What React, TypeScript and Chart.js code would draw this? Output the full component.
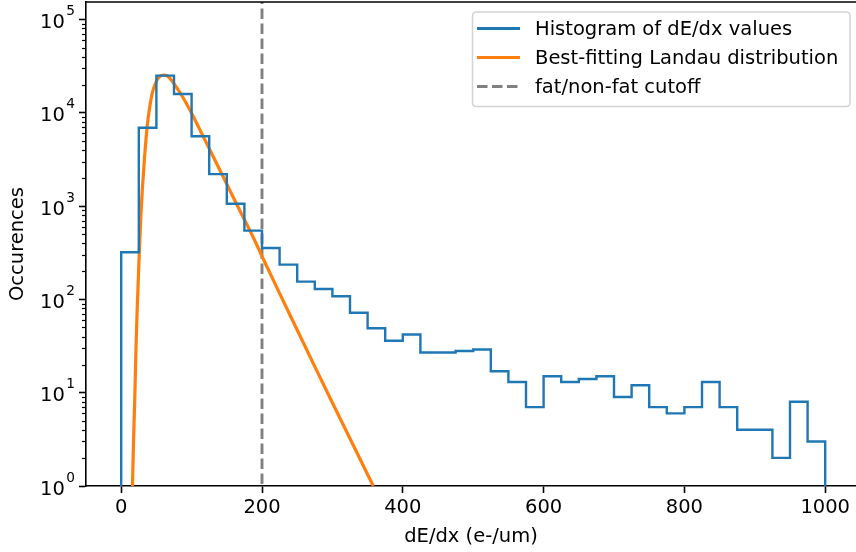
import React, { useEffect, useRef } from 'react';
import { Chart, registerables } from 'chart.js';

Chart.register(...registerables);

// ---- data ----
const binEdges = [0, 25, 50, 75, 100, 125, 150, 175, 200, 225, 250, 275, 300, 325, 350, 375, 400, 425, 450, 475, 500, 525, 550, 575, 600, 625, 650, 675, 700, 725, 750, 775, 800, 825, 850, 875, 900, 925, 950, 975, 1000];
const binCounts = [320, 6900, 25000, 15900, 5600, 2200, 1060, 545, 355, 236, 155, 129, 108, 72, 49, 36, 42, 27, 27, 28, 29, 17, 13, 7, 15, 13, 14, 15, 9, 12, 7, 6, 7, 13, 7, 4, 4, 2, 8, 3];

const landauX = [16, 17.5, 19.5, 21, 22.5, 25.5, 28, 30, 33, 37, 40, 44, 50, 55, 60, 66, 74, 85, 98, 110, 122, 145, 169, 188, 200, 225, 250, 275, 300, 330, 358];
const landauY = [1, 3, 10, 30, 70, 290, 800, 1500, 3200, 7300, 10800, 16000, 21800, 24600, 25400, 24700, 21000, 15800, 10600, 7000, 4600, 2050, 880, 455, 290, 116, 47, 19, 7.8, 2.7, 1];

const cutoffX = 200;

const xTicks = [0, 200, 400, 600, 800, 1000];
const yTicks = [1, 10, 100, 1000, 10000, 100000];
const yTickBase = '10';
const yTickExponents = ['0', '1', '2', '3', '4', '5'];
const yMinorTicks = [2, 3, 4, 5, 6, 7, 8, 9, 20, 30, 40, 50, 60, 70, 80, 90, 200, 300, 400, 500, 600, 700, 800, 900, 2000, 3000, 4000, 5000, 6000, 7000, 8000, 9000, 20000, 30000, 40000, 50000, 60000, 70000, 80000, 90000];

const legendLabels = ['Histogram of dE/dx values', 'Best-fitting Landau distribution', 'fat/non-fat cutoff'];
const xLabel = 'dE/dx (e-/um)';
const yLabel = 'Occurences';

const BLUE = '#1f77b4';
const ORANGE = '#ff7f0e';
const GRAY = '#808080';
const FONT = 'DejaVu Sans';
const FS = 19.5;
const FS_SUP = 13.7;

export default function App() {
  const ref = useRef<HTMLCanvasElement | null>(null);

  useEffect(() => {
    const canvas = ref.current;
    if (!canvas) return;

    const histPts: { x: number; y: number }[] = [];
    histPts.push({ x: binEdges[0], y: 0.5 });
    for (let i = 0; i < binCounts.length; i++) histPts.push({ x: binEdges[i], y: binCounts[i] });
    histPts.push({ x: binEdges[binEdges.length - 1], y: binCounts[binCounts.length - 1] });
    histPts.push({ x: binEdges[binEdges.length - 1], y: 0.5 });

    const landauPts = landauX.map((x, i) => ({ x, y: landauY[i] }));
    const cutoffPts = [{ x: cutoffX, y: 0.5 }, { x: cutoffX, y: 1e6 }];

    const decor = {
      id: 'decor',
      afterDraw(chart: any) {
        const { ctx, chartArea } = chart;
        const ys = chart.scales.y;
        ctx.save();
        // minor ticks
        ctx.strokeStyle = '#000';
        ctx.lineWidth = 1.2;
        for (const v of yMinorTicks) {
          const py = Math.round(ys.getPixelForValue(v)) + 0.5;
          if (py < chartArea.top || py > chartArea.bottom) continue;
          ctx.beginPath();
          ctx.moveTo(chartArea.left - 4, py);
          ctx.lineTo(chartArea.left, py);
          ctx.stroke();
        }
        // y tick labels (10 with superscript exponent)
        ctx.fillStyle = '#000';
        ctx.textBaseline = 'alphabetic';
        ctx.textAlign = 'left';
        for (let i = 0; i < yTicks.length; i++) {
          const py = ys.getPixelForValue(yTicks[i]);
          ctx.font = `${FS}px "${FONT}"`;
          ctx.fillText(yTickBase, 40, py + 8.5);
          const w = ctx.measureText(yTickBase).width;
          ctx.font = `${FS_SUP}px "${FONT}"`;
          ctx.fillText(yTickExponents[i], 40 + w + 1.5, py - 4.5);
        }
        // top spine
        ctx.strokeStyle = '#000';
        ctx.lineWidth = 1.6;
        ctx.beginPath();
        ctx.moveTo(chartArea.left - 0.8, chartArea.top);
        ctx.lineTo(chartArea.right, chartArea.top);
        ctx.stroke();

        // legend
        const bx = 472.5, by = 12, bw = 377.5, bh = 94.5, r = 4;
        ctx.beginPath();
        ctx.moveTo(bx + r, by);
        ctx.lineTo(bx + bw - r, by);
        ctx.quadraticCurveTo(bx + bw, by, bx + bw, by + r);
        ctx.lineTo(bx + bw, by + bh - r);
        ctx.quadraticCurveTo(bx + bw, by + bh, bx + bw - r, by + bh);
        ctx.lineTo(bx + r, by + bh);
        ctx.quadraticCurveTo(bx, by + bh, bx, by + bh - r);
        ctx.lineTo(bx, by + r);
        ctx.quadraticCurveTo(bx, by, bx + r, by);
        ctx.closePath();
        ctx.fillStyle = 'rgba(255,255,255,0.8)';
        ctx.fill();
        ctx.strokeStyle = '#d3d3d3';
        ctx.lineWidth = 1.5;
        ctx.stroke();

        const rows = [28.5, 57.5, 86.5];
        const colors = [BLUE, ORANGE, GRAY];
        for (let i = 0; i < 3; i++) {
          ctx.beginPath();
          ctx.strokeStyle = colors[i];
          ctx.lineWidth = 2.8;
          ctx.setLineDash(i === 2 ? [10.5, 4.5] : []);
          ctx.moveTo(477, rows[i]);
          ctx.lineTo(520, rows[i]);
          ctx.stroke();
          ctx.setLineDash([]);
          ctx.fillStyle = '#000';
          ctx.font = `${FS}px "${FONT}"`;
          ctx.textBaseline = 'middle';
          ctx.textAlign = 'left';
          ctx.fillText(legendLabels[i], 535, rows[i] + 1);
        }
        ctx.restore();
      },
    };

    const chart = new Chart(canvas, {
      type: 'line',
      data: {
        datasets: [
          {
            label: legendLabels[0],
            data: histPts,
            borderColor: BLUE,
            borderWidth: 2.4,
            stepped: 'before',
            pointRadius: 0,
            fill: false,
            clip: 0,
          } as any,
          {
            label: legendLabels[1],
            data: landauPts,
            borderColor: ORANGE,
            borderWidth: 3.2,
            cubicInterpolationMode: 'monotone',
            pointRadius: 0,
            fill: false,
            clip: 0,
          } as any,
          {
            label: legendLabels[2],
            data: cutoffPts,
            borderColor: GRAY,
            borderWidth: 2.9,
            borderDash: [10.5, 4.5],
            pointRadius: 0,
            fill: false,
            clip: 0,
          } as any,
        ],
      },
      options: {
        responsive: false,
        animation: false,
        devicePixelRatio: 1,
        layout: { padding: { top: 2, right: 0, left: 0, bottom: 0 } },
        plugins: { legend: { display: false }, tooltip: { enabled: false } },
        elements: { point: { radius: 0 } },
        scales: {
          x: {
            type: 'linear',
            min: -50,
            max: 1043.75,
            afterBuildTicks: (s: any) => {
              s.ticks = xTicks.map((v) => ({ value: v }));
            },
            afterFit: (s: any) => {
              s.height = 66;
              s.paddingLeft = 0;
              s.paddingRight = 0;
            },
            ticks: {
              color: '#000',
              font: { family: FONT, size: FS },
              padding: 3,
              maxRotation: 0,
              autoSkip: false,
              callback: (v: any) => String(v),
            },
            grid: {
              display: true,
              drawOnChartArea: false,
              drawTicks: true,
              tickLength: 7,
              tickWidth: 1.6,
              tickColor: '#000',
            },
            border: { display: true, color: '#000', width: 1.6 },
            title: {
              display: true,
              text: xLabel,
              color: '#000',
              font: { family: FONT, size: FS },
              padding: { top: 0, bottom: 3 },
            },
          } as any,
          y: {
            type: 'logarithmic',
            min: 1,
            max: 153800,
            afterBuildTicks: (s: any) => {
              s.ticks = yTicks.map((v) => ({ value: v }));
            },
            afterFit: (s: any) => {
              s.width = 86;
              s.paddingTop = 0;
              s.paddingBottom = 0;
            },
            ticks: {
              display: false,
              autoSkip: false,
            },
            grid: {
              display: true,
              drawOnChartArea: false,
              drawTicks: true,
              tickLength: 7,
              tickWidth: 1.6,
              tickColor: '#000',
            },
            border: { display: true, color: '#000', width: 1.6 },
            title: {
              display: true,
              text: yLabel,
              color: '#000',
              font: { family: FONT, size: FS },
              padding: { top: 6, bottom: 0 },
            },
          } as any,
        },
      },
      plugins: [decor],
    });

    return () => chart.destroy();
  }, []);

  return (
    <div style={{ position: 'fixed', left: 0, top: 0, width: 856, height: 552, background: '#fff' }}>
      <canvas ref={ref} width={856} height={552} style={{ display: 'block', width: 856, height: 552 }} />
    </div>
  );
}
